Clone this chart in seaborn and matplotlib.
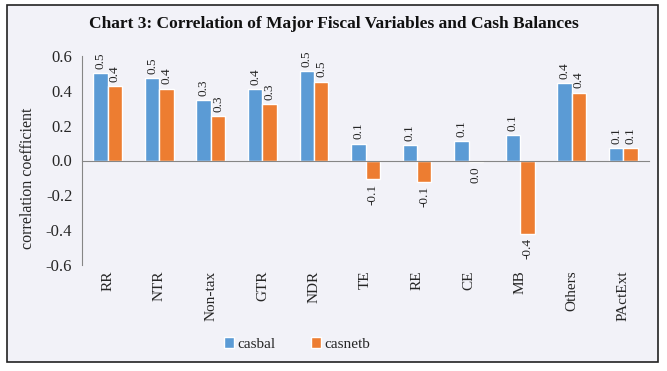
import numpy as np
import pandas as pd
import matplotlib.pyplot as plt
import seaborn as sns
from matplotlib.patches import Rectangle
from matplotlib.ticker import MultipleLocator, FixedLocator, NullFormatter

# ------------------------------------------------------------------
# data
# ------------------------------------------------------------------
variables = ["RR", "NTR", "Non-tax", "GTR", "NDR", "TE", "RE", "CE", "MB", "Others", "PActExt"]
casbal = [0.504, 0.472, 0.346, 0.409, 0.514, 0.097, 0.088, 0.111, 0.145, 0.443, 0.071]
casnetb = [0.428, 0.413, 0.256, 0.324, 0.453, -0.109, -0.123, -0.008, -0.420, 0.390, 0.071]
series_names = ["casbal", "casnetb"]
colors = ["#5B9BD5", "#ED7D31"]

df = pd.DataFrame({
    "variable": variables * 2,
    "value": casbal + casnetb,
    "series": [series_names[0]] * len(variables) + [series_names[1]] * len(variables),
})

bg = "#F2F2F8"
sns.set_style("white", {"axes.facecolor": bg, "figure.facecolor": bg})
plt.rcParams["font.family"] = ["Liberation Serif", "DejaVu Serif"]

fig = plt.figure(figsize=(6.67, 3.71), dpi=100)
fig.patch.set_facecolor("white")
# light panel with black frame
fig.patches.append(Rectangle((7 / 667, 1 - 362 / 371), 651 / 667, 357 / 371,
                             transform=fig.transFigure, facecolor=bg,
                             edgecolor="#222222", linewidth=1.2, zorder=-5))

ax = fig.add_axes([82 / 667, 1 - 265 / 371, 567 / 667, 209 / 371])
ax.set_facecolor(bg)
ax.set_zorder(2)

sns.barplot(data=df, x="variable", y="value", hue="series", palette=colors,
            width=0.56, gap=0, saturation=1, ax=ax, legend=True)

ax.set_xlim(-0.5, len(variables) - 0.5)
ax.set_ylim(-0.6, 0.6)
ax.yaxis.set_major_locator(MultipleLocator(0.2))
ax.yaxis.set_major_formatter(plt.FuncFormatter(lambda v, p: f"{v:.1f}"))
ax.tick_params(axis="y", labelsize=12, length=4, color="#868686", pad=3)
ax.set_ylabel("correlation coefficient", fontsize=11.5)
ax.yaxis.set_label_coords(-0.081, 0.416)
ax.set_xlabel("")

# zero line with boundary ticks, category labels at the bottom
for s in ["top", "right"]:
    ax.spines[s].set_visible(False)
ax.spines["left"].set_color("#868686")
ax.spines["bottom"].set_position(("data", 0))
ax.spines["bottom"].set_color("#868686")
ax.xaxis.set_major_locator(FixedLocator(np.arange(len(variables))))
ax.xaxis.set_major_formatter(NullFormatter())
ax.xaxis.set_minor_locator(FixedLocator(np.arange(len(variables) + 1) - 0.5))
ax.tick_params(axis="x", which="major", length=0)
ax.tick_params(axis="x", which="minor", length=5, color="#868686", direction="out")

sec = ax.secondary_xaxis("bottom")
sec.set_xticks(np.arange(len(variables)))
sec.set_xticklabels(variables, rotation=90, fontsize=11)
sec.tick_params(length=0, pad=4)
sec.spines["bottom"].set_visible(False)

# value labels
for cont in ax.containers:
    labels = []
    for v in cont.datavalues:
        t = f"{v:.1f}"
        labels.append("0.0" if t == "-0.0" else t)
    ax.bar_label(cont, labels=labels, rotation=90, fontsize=9.5, padding=3)

handles, lbls = ax.get_legend_handles_labels()
ax.get_legend().remove()
fig.legend(handles, lbls, loc="center", bbox_to_anchor=(297 / 667, 1 - 344 / 371),
           ncol=2, frameon=False, fontsize=11, handlelength=0.7, handleheight=0.7,
           handletextpad=0.2, columnspacing=2.3)

fig.text(0.5, 1 - 24 / 371, "Chart 3: Correlation of Major Fiscal Variables and Cash Balances",
         ha="center", va="center", fontsize=12.5, fontweight="bold", color="#111111")

fig.savefig("out.png", dpi=100, facecolor=fig.get_facecolor())
